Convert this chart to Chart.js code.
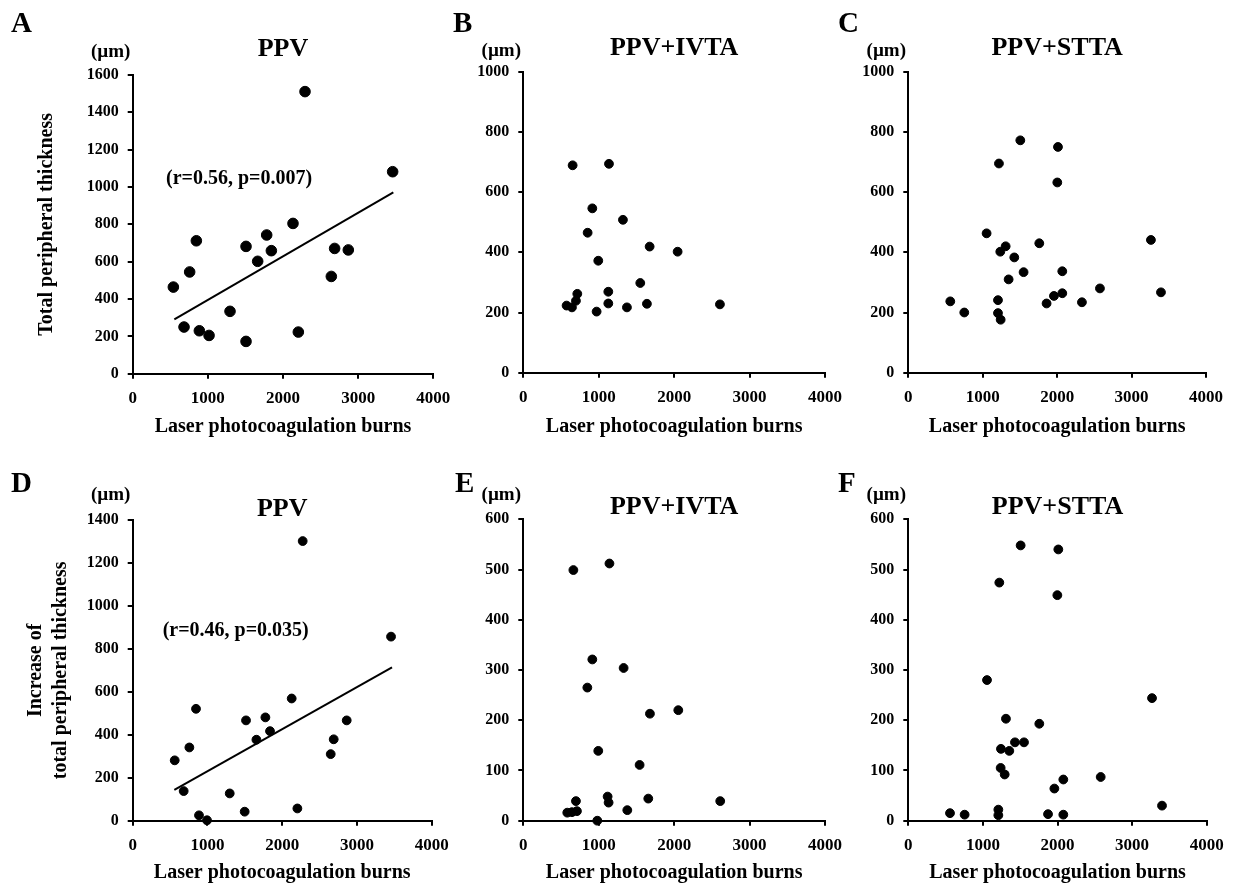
<!DOCTYPE html>
<html>
<head>
<meta charset="utf-8">
<script src="https://cdn.jsdelivr.net/npm/chart.js@4"></script>
<style>
  html, body { margin: 0; padding: 0; background: #fff; overflow: hidden; }
  body { position: relative; width: 1238px; height: 883px; }
  canvas { position: absolute; }
</style>
</head>
<body>
<canvas id="pA"></canvas>
<canvas id="pB"></canvas>
<canvas id="pC"></canvas>
<canvas id="pD"></canvas>
<canvas id="pE"></canvas>
<canvas id="pF"></canvas>
<script>
// laser burns (x) and thickness in µm (y)
const xA = [2293, 3459, 541, 847, 758, 683, 887, 1016, 1295, 1508, 1508, 1663, 1783, 1845, 2133, 2204, 2643, 2687, 2869];
const yA = [1511, 1082, 464, 712, 545, 250, 230, 205, 334, 173, 682, 602, 743, 659, 805, 223, 521, 671, 663];
const trendXA = [554, 3468];
const trendYA = [291, 971];

const xB = [654, 1136, 915, 1321, 853, 1675, 2046, 994, 1551, 1127, 716, 698, 574, 645, 1127, 972, 1374, 1639, 2607];
const yB = [689, 694, 546, 508, 465, 419, 402, 372, 298, 269, 262, 239, 223, 217, 230, 203, 217, 229, 227];

const xC = [1505, 2011, 1218, 2002, 1052, 3260, 1760, 1308, 1236, 1424, 1549, 2069, 1348, 2575, 3395, 2069, 1957, 564, 1205, 1858, 2333, 752, 1205, 1241];
const yC = [772, 750, 695, 632, 463, 441, 430, 420, 402, 383, 334, 337, 310, 280, 267, 264, 255, 237, 241, 230, 234, 200, 198, 176];

const xD = [2274, 3456, 562, 847, 758, 682, 887, 994, 1298, 1498, 1516, 1655, 1775, 1837, 2127, 2203, 2649, 2689, 2863];
const yD = [1302, 857, 281, 521, 341, 138, 25, 2, 127, 42, 467, 377, 481, 417, 569, 57, 310, 379, 467];
const trendXD = [557, 3469];
const trendYD = [143, 714];

const xE = [1142, 664, 915, 1330, 849, 2055, 1679, 994, 1542, 1118, 1131, 1657, 698, 2611, 1379, 583, 645, 711, 981];
const yE = [512, 499, 321, 304, 265, 220, 213, 139, 111, 48, 36, 44, 39, 39, 21, 16, 17, 19, 0];

const xF = [1506, 2011, 1220, 1998, 1055, 3267, 1309, 1756, 1430, 1551, 1242, 1354, 1238, 1292, 2579, 2078, 1958, 3401, 1207, 1207, 559, 755, 1873, 2078];
const yF = [548, 540, 474, 449, 280, 244, 203, 193, 156, 156, 143, 139, 105, 92, 87, 82, 64, 30, 22, 11, 15, 12, 13, 12];

const xLabel = 'Laser photocoagulation burns';

const FONT = '"Liberation Serif", "Times New Roman", serif';
Chart.defaults.color = '#000';
Chart.defaults.font.family = FONT;
Chart.defaults.font.weight = 'bold';

function pts(xs, ys) {
  return xs.map((x, i) => ({ x: x, y: ys[i] }));
}

// letter, (µm) and the r/p note
const panelText = {
  id: 'panelText',
  afterDraw(chart, args, o) {
    const { ctx, chartArea, scales } = chart;
    ctx.save();
    ctx.fillStyle = '#000';
    ctx.textBaseline = 'middle';
    ctx.textAlign = 'left';
    ctx.font = 'bold 29px ' + FONT;
    ctx.fillText(o.letter, o.letterX, o.letterY);
    ctx.textAlign = 'center';
    ctx.font = 'bold 19px ' + FONT;
    ctx.fillText('(\u00b5m)', chartArea.left - 22, o.unitY);
    if (o.note) {
      ctx.font = 'bold 20px ' + FONT;
      ctx.fillText(o.note, scales.x.getPixelForValue(o.noteX), scales.y.getPixelForValue(o.noteY));
    }
    ctx.restore();
  }
};

function makePanel(id, p) {
  const cv = document.getElementById(id);
  cv.width = p.cw; cv.height = p.ch;
  cv.style.left = p.cl + 'px'; cv.style.top = p.ct + 'px';
  const tlh = 20.8;
  const titlePadTop = p.titleY - p.ct - tlh / 2;
  const datasets = [{
    data: pts(p.xs, p.ys),
    backgroundColor: '#000',
    borderColor: '#000',
    pointRadius: p.r,
    pointHoverRadius: p.r,
    clip: false
  }];
  if (p.tx) {
    datasets.push({
      data: pts(p.tx, p.ty),
      showLine: true,
      borderColor: '#000',
      borderWidth: 2,
      pointRadius: 0,
      clip: false
    });
  }
  new Chart(cv, {
    type: 'scatter',
    data: { datasets: datasets },
    plugins: [panelText],
    options: {
      responsive: false,
      animation: false,
      events: [],
      layout: { padding: { left: 0, top: 0, right: p.cl + p.cw - p.right, bottom: 0 } },
      plugins: {
        legend: { display: false },
        tooltip: { enabled: false },
        title: {
          display: true,
          text: p.title,
          fullSize: false,
          font: { size: 26, weight: 'bold', lineHeight: 0.8 },
          padding: { top: titlePadTop, bottom: Math.max(0, p.top - p.ct - titlePadTop - tlh) }
        },
        panelText: {
          letter: p.letter, letterX: p.letterX, letterY: p.letterY - p.ct,
          unitY: p.unitY - p.ct,
          note: p.note, noteX: p.noteX, noteY: p.noteY
        }
      },
      scales: {
        x: {
          type: 'linear',
          min: 0, max: 4000,
          border: { color: '#000', width: 2 },
          grid: { drawOnChartArea: false, color: '#000', lineWidth: 2, tickLength: 5 },
          ticks: { stepSize: 1000, padding: 10, font: { size: 17, weight: 'bold' }, callback: v => String(v) },
          title: {
            display: true, text: xLabel,
            font: { size: 20, weight: 'bold', lineHeight: 1 },
            padding: { top: 0, bottom: p.xTitlePad }
          },
          afterFit(s) { s.height = p.ct + p.ch - p.bottom; }
        },
        y: {
          type: 'linear',
          min: 0, max: p.ymax,
          border: { color: '#000', width: 2 },
          grid: { drawOnChartArea: false, color: '#000', lineWidth: 2, tickLength: 5 },
          ticks: { stepSize: p.ystep, padding: 9, font: { size: 16, weight: 'bold' }, callback: v => String(v) },
          title: p.ytitle ? {
            display: true, text: p.ytitle,
            font: { size: 20, weight: 'bold', lineHeight: p.ylh },
            padding: { top: p.ytPad, bottom: 0 }
          } : { display: false },
          afterFit(s) { s.width = p.left - p.cl; }
        }
      }
    }
  });
}

makePanel('pA', {
  cl: 0, ct: 0, cw: 480, ch: 445, left: 132.7, right: 433.3, top: 75, bottom: 373.7,
  title: 'PPV', titleY: 49, letter: 'A', letterX: 11, letterY: 25, unitY: 52,
  xs: xA, ys: yA, tx: trendXA, ty: trendYA, r: 5.3, ymax: 1600, ystep: 200,
  ytitle: 'Total peripheral thickness', ylh: 1.2, ytPad: 35,
  note: '(r=0.56, p=0.007)', noteX: 1415, noteY: 1046, xTitlePad: 8
});
makePanel('pB', {
  cl: 440, ct: 0, cw: 420, ch: 445, left: 523.3, right: 825, top: 71.7, bottom: 372.7,
  title: 'PPV+IVTA', titleY: 48, letter: 'B', letterX: 13, letterY: 25, unitY: 51,
  xs: xB, ys: yB, r: 4.4, ymax: 1000, ystep: 200, xTitlePad: 8
});
makePanel('pC', {
  cl: 830, ct: 0, cw: 408, ch: 445, left: 908.3, right: 1206, top: 71.7, bottom: 372.7,
  title: 'PPV+STTA', titleY: 48, letter: 'C', letterX: 8, letterY: 25, unitY: 51,
  xs: xC, ys: yC, r: 4.4, ymax: 1000, ystep: 200, xTitlePad: 8
});
makePanel('pD', {
  cl: 0, ct: 445, cw: 480, ch: 438, left: 132.7, right: 431.7, top: 520, bottom: 820.7,
  title: 'PPV', titleY: 509, letter: 'D', letterX: 11, letterY: 485, unitY: 495,
  xs: xD, ys: yD, tx: trendXD, ty: trendYD, r: 4.4, ymax: 1400, ystep: 200,
  ytitle: ['Increase of', 'total peripheral thickness'], ylh: 1.25, ytPad: 23.5,
  note: '(r=0.46, p=0.035)', noteX: 1378, noteY: 883, xTitlePad: 0
});
makePanel('pE', {
  cl: 440, ct: 445, cw: 420, ch: 438, left: 523.3, right: 825, top: 519.3, bottom: 820.7,
  title: 'PPV+IVTA', titleY: 507, letter: 'E', letterX: 15, letterY: 485, unitY: 495,
  xs: xE, ys: yE, r: 4.4, ymax: 600, ystep: 100, xTitlePad: 0
});
makePanel('pF', {
  cl: 830, ct: 445, cw: 408, ch: 438, left: 908.3, right: 1206.7, top: 519.3, bottom: 820.7,
  title: 'PPV+STTA', titleY: 507, letter: 'F', letterX: 8, letterY: 485, unitY: 495,
  xs: xF, ys: yF, r: 4.4, ymax: 600, ystep: 100, xTitlePad: 0
});
</script>
</body>
</html>
